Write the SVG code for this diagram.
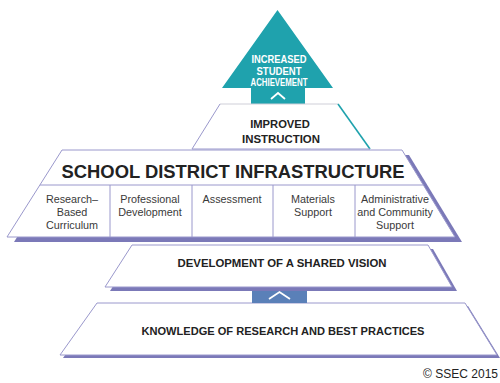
<svg xmlns="http://www.w3.org/2000/svg" width="500" height="383" viewBox="0 0 500 383">
<style>
.t{font-family:"Liberation Sans",Arial,sans-serif;font-weight:bold;fill:#222;text-anchor:middle}
.s{font-family:"Liberation Sans",Arial,sans-serif;font-size:10.8px;fill:#3a3a3a;text-anchor:middle}
.w{font-family:"Liberation Sans",Arial,sans-serif;font-weight:bold;font-size:11.5px;fill:#fff;text-anchor:middle}
.shadow{fill:#7b79b8}
.tier{fill:#fff;stroke:#9a98cc;stroke-width:1}
.chev{fill:none;stroke:#fff;stroke-width:1.8}
</style>
<rect width="500" height="383" fill="#fff"/>

<g id="achievement">
<polygon points="277.5,10 333,88 305,88 305,104 251,104 251,88 222,88" fill="#1fa2ad"/>
<polyline class="chev" points="271,99 278,93 285,99"/>
<text class="w" x="279" y="63" textLength="55" lengthAdjust="spacingAndGlyphs">INCREASED</text>
<text class="w" x="279" y="74.5" textLength="45" lengthAdjust="spacingAndGlyphs">STUDENT</text>
<text class="w" x="279" y="86" textLength="57" lengthAdjust="spacingAndGlyphs">ACHIEVEMENT</text>
</g>

<g id="instruction">
<polygon points="220,104 338,104 370,149 192,149" fill="#fff"/>
<line x1="220" y1="104" x2="338" y2="104" stroke="#cfcfd8" stroke-width="1"/>
<line x1="220" y1="104" x2="192" y2="149" stroke="#9a98cc" stroke-width="1"/>
<line x1="338" y1="104" x2="370" y2="149" stroke="#1fa2ad" stroke-width="1.6"/>
<line x1="192" y1="149" x2="370" y2="149" stroke="#9a98cc" stroke-width="1"/>
<text class="t" x="280" y="128" font-size="11.2">IMPROVED</text>
<text class="t" x="281" y="143" font-size="11.2" textLength="78" lengthAdjust="spacingAndGlyphs">INSTRUCTION</text>
</g>

<g id="knowledge">
<polygon class="shadow" points="100,306 468,306 500,358 63,358"/>
<polygon class="tier" points="97,303 465,303 497,355 60,355"/>
<text class="t" x="283" y="335" font-size="11.2" textLength="283" lengthAdjust="spacingAndGlyphs">KNOWLEDGE OF RESEARCH AND BEST PRACTICES</text>
</g>

<g id="connectors">
<rect x="252" y="290" width="55" height="13" fill="#5a80b8"/>
<polyline class="chev" points="269,299 279.5,292 290,299"/>
</g>

<g id="vision">
<polygon class="shadow" points="137,249 433,249 457,291 110,291"/>
<polygon class="tier" points="132,245 428,245 452,287 105,287"/>
<text class="t" x="282" y="267" font-size="11.3" textLength="209" lengthAdjust="spacingAndGlyphs">DEVELOPMENT OF A SHARED VISION</text>
</g>

<g id="infrastructure">
<polygon class="shadow" points="69,155 409,155 462,242 14,242"/>
<polygon class="tier" points="62,150 402,150 455,237 7,237"/>
<line x1="40" y1="185" x2="423" y2="185" stroke="#9a98cc" stroke-width="1"/>
<line x1="110" y1="185" x2="110" y2="237" stroke="#9a98cc" stroke-width="1"/>
<line x1="192" y1="185" x2="192" y2="237" stroke="#9a98cc" stroke-width="1"/>
<line x1="273" y1="185" x2="273" y2="237" stroke="#9a98cc" stroke-width="1"/>
<line x1="355" y1="185" x2="355" y2="237" stroke="#9a98cc" stroke-width="1"/>
<text class="t" x="233" y="178" font-size="18.5" textLength="343" lengthAdjust="spacingAndGlyphs">SCHOOL DISTRICT INFRASTRUCTURE</text>
<text class="s" x="72" y="203">Research–</text>
<text class="s" x="72" y="216">Based</text>
<text class="s" x="72" y="229">Curriculum</text>
<text class="s" x="150" y="203">Professional</text>
<text class="s" x="150" y="216">Development</text>
<text class="s" x="232" y="203">Assessment</text>
<text class="s" x="313" y="203">Materials</text>
<text class="s" x="313" y="216">Support</text>
<text class="s" x="395" y="203">Administrative</text>
<text class="s" x="395" y="216">and Community</text>
<text class="s" x="395" y="229">Support</text>
</g>

<text x="498" y="378" font-family="'Liberation Sans',Arial,sans-serif" font-size="12" fill="#222" text-anchor="end">© SSEC 2015</text>
</svg>
